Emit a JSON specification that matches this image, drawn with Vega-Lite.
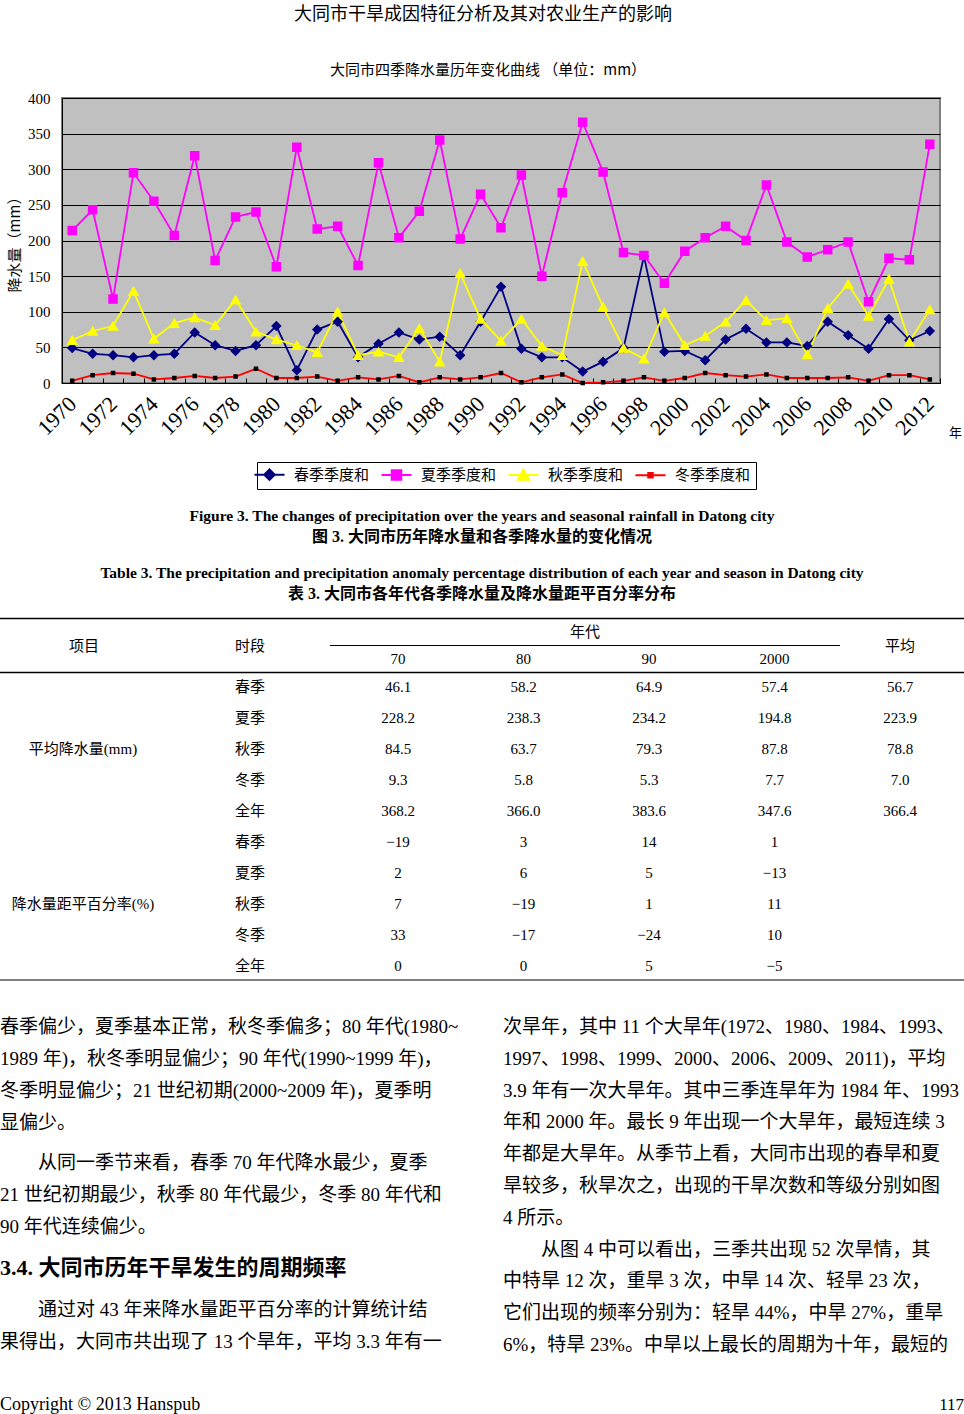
{
  "$schema": "https://vega.github.io/schema/vega-lite/v6.json",
  "width": 878,
  "height": 285,
  "autosize": {"type": "none"},
  "padding": {"left": 62, "top": 98, "right": 24, "bottom": 1031},
  "background": "white",
  "config": {
    "view": {"stroke": "#808080", "strokeWidth": 2, "fill": "#C0C0C0"},
    "font": "Liberation Serif, Noto Sans CJK SC",
    "text": {"color": "black", "baseline": "middle"}
  },
  "datasets": {
    "降水": [
      {"年份": 1970, "春季季度和": 49, "夏季季度和": 214, "秋季季度和": 60, "冬季季度和": 3},
      {"年份": 1971, "春季季度和": 41, "夏季季度和": 243, "秋季季度和": 73, "冬季季度和": 11},
      {"年份": 1972, "春季季度和": 39, "夏季季度和": 118, "秋季季度和": 80, "冬季季度和": 14},
      {"年份": 1973, "春季季度和": 36, "夏季季度和": 295, "秋季季度和": 129, "冬季季度和": 13},
      {"年份": 1974, "春季季度和": 39, "夏季季度和": 255, "秋季季度和": 62, "冬季季度和": 5},
      {"年份": 1975, "春季季度和": 41, "夏季季度和": 207, "秋季季度和": 84, "冬季季度和": 7},
      {"年份": 1976, "春季季度和": 71, "夏季季度和": 319, "秋季季度和": 92, "冬季季度和": 10},
      {"年份": 1977, "春季季度和": 53, "夏季季度和": 172, "秋季季度和": 81, "冬季季度和": 7},
      {"年份": 1978, "春季季度和": 45, "夏季季度和": 233, "秋季季度和": 117, "冬季季度和": 9},
      {"年份": 1979, "春季季度和": 53, "夏季季度和": 240, "秋季季度和": 72, "冬季季度和": 20},
      {"年份": 1980, "春季季度和": 80, "夏季季度和": 163, "秋季季度和": 61, "冬季季度和": 7},
      {"年份": 1981, "春季季度和": 18, "夏季季度和": 331, "秋季季度和": 53, "冬季季度和": 7},
      {"年份": 1982, "春季季度和": 75, "夏季季度和": 216, "秋季季度和": 43, "冬季季度和": 9},
      {"年份": 1983, "春季季度和": 86, "夏季季度和": 220, "秋季季度和": 100, "冬季季度和": 3},
      {"年份": 1984, "春季季度和": 36, "夏季季度和": 165, "秋季季度和": 39, "冬季季度和": 8},
      {"年份": 1985, "春季季度和": 55, "夏季季度和": 309, "秋季季度和": 44, "冬季季度和": 5},
      {"年份": 1986, "春季季度和": 71, "夏季季度和": 204, "秋季季度和": 36, "冬季季度和": 10},
      {"年份": 1987, "春季季度和": 61, "夏季季度和": 241, "秋季季度和": 77, "冬季季度和": 1},
      {"年份": 1988, "春季季度和": 65, "夏季季度和": 341, "秋季季度和": 30, "冬季季度和": 8},
      {"年份": 1989, "春季季度和": 39, "夏季季度和": 202, "秋季季度和": 154, "冬季季度和": 5},
      {"年份": 1990, "春季季度和": 86, "夏季季度和": 265, "秋季季度和": 90, "冬季季度和": 8},
      {"年份": 1991, "春季季度和": 135, "夏季季度和": 218, "秋季季度和": 59, "冬季季度和": 14},
      {"年份": 1992, "春季季度和": 48, "夏季季度和": 292, "秋季季度和": 90, "冬季季度和": 1},
      {"年份": 1993, "春季季度和": 36, "夏季季度和": 150, "秋季季度和": 52, "冬季季度和": 8},
      {"年份": 1994, "春季季度和": 36, "夏季季度和": 267, "秋季季度和": 39, "冬季季度和": 12},
      {"年份": 1995, "春季季度和": 16, "夏季季度和": 366, "秋季季度和": 171, "冬季季度和": 0},
      {"年份": 1996, "春季季度和": 30, "夏季季度和": 296, "秋季季度和": 107, "冬季季度和": 1},
      {"年份": 1997, "春季季度和": 49, "夏季季度和": 183, "秋季季度和": 49, "冬季季度和": 3},
      {"年份": 1998, "春季季度和": 178, "夏季季度和": 179, "秋季季度和": 34, "冬季季度和": 8},
      {"年份": 1999, "春季季度和": 44, "夏季季度和": 140, "秋季季度和": 99, "冬季季度和": 3},
      {"年份": 2000, "春季季度和": 45, "夏季季度和": 185, "秋季季度和": 53, "冬季季度和": 7},
      {"年份": 2001, "春季季度和": 32, "夏季季度和": 204, "秋季季度和": 66, "冬季季度和": 14},
      {"年份": 2002, "春季季度和": 61, "夏季季度和": 220, "秋季季度和": 86, "冬季季度和": 11},
      {"年份": 2003, "春季季度和": 76, "夏季季度和": 200, "秋季季度和": 116, "冬季季度和": 9},
      {"年份": 2004, "春季季度和": 57, "夏季季度和": 278, "秋季季度和": 88, "冬季季度和": 12},
      {"年份": 2005, "春季季度和": 57, "夏季季度和": 198, "秋季季度和": 91, "冬季季度和": 7},
      {"年份": 2006, "春季季度和": 52, "夏季季度和": 177, "秋季季度和": 40, "冬季季度和": 7},
      {"年份": 2007, "春季季度和": 86, "夏季季度和": 187, "秋季季度和": 105, "冬季季度和": 7},
      {"年份": 2008, "春季季度和": 67, "夏季季度和": 198, "秋季季度和": 139, "冬季季度和": 8},
      {"年份": 2009, "春季季度和": 48, "夏季季度和": 114, "秋季季度和": 94, "冬季季度和": 3},
      {"年份": 2010, "春季季度和": 90, "夏季季度和": 175, "秋季季度和": 146, "冬季季度和": 11},
      {"年份": 2011, "春季季度和": 60, "夏季季度和": 173, "秋季季度和": 58, "冬季季度和": 11},
      {"年份": 2012, "春季季度和": 73, "夏季季度和": 335, "秋季季度和": 103, "冬季季度和": 5}
    ],
    "标题": [
      {"位置": "页眉", "文本": "大同市干旱成因特征分析及其对农业生产的影响"},
      {"位置": "图题", "文本": "大同市四季降水量历年变化曲线 （单位：mm）"}
    ],
    "题注": [
      {"图表": "图", "语言": "英文", "文本": "Figure 3. The changes of precipitation over the years and seasonal rainfall in Datong city"},
      {"图表": "图", "语言": "中文", "文本": "图 3.  大同市历年降水量和各季降水量的变化情况"},
      {"图表": "表", "语言": "英文", "文本": "Table 3. The precipitation and precipitation anomaly percentage distribution of each year and season in Datong city"},
      {"图表": "表", "语言": "中文", "文本": "表 3.  大同市各年代各季降水量及降水量距平百分率分布"}
    ],
    "表头": [
      {"表头": "项目", "层": "跨"},
      {"表头": "时段", "层": "跨"},
      {"表头": "年代", "层": "上"},
      {"表头": "70", "层": "下"},
      {"表头": "80", "层": "下"},
      {"表头": "90", "层": "下"},
      {"表头": "2000", "层": "下"},
      {"表头": "平均", "层": "跨"}
    ],
    "表格": [
      {"项目": "平均降水量(mm)", "时段": "春季", "年代": "70", "值": "46.1"},
      {"项目": "平均降水量(mm)", "时段": "春季", "年代": "80", "值": "58.2"},
      {"项目": "平均降水量(mm)", "时段": "春季", "年代": "90", "值": "64.9"},
      {"项目": "平均降水量(mm)", "时段": "春季", "年代": "2000", "值": "57.4"},
      {"项目": "平均降水量(mm)", "时段": "春季", "年代": "平均", "值": "56.7"},
      {"项目": "平均降水量(mm)", "时段": "夏季", "年代": "70", "值": "228.2"},
      {"项目": "平均降水量(mm)", "时段": "夏季", "年代": "80", "值": "238.3"},
      {"项目": "平均降水量(mm)", "时段": "夏季", "年代": "90", "值": "234.2"},
      {"项目": "平均降水量(mm)", "时段": "夏季", "年代": "2000", "值": "194.8"},
      {"项目": "平均降水量(mm)", "时段": "夏季", "年代": "平均", "值": "223.9"},
      {"项目": "平均降水量(mm)", "时段": "秋季", "年代": "70", "值": "84.5"},
      {"项目": "平均降水量(mm)", "时段": "秋季", "年代": "80", "值": "63.7"},
      {"项目": "平均降水量(mm)", "时段": "秋季", "年代": "90", "值": "79.3"},
      {"项目": "平均降水量(mm)", "时段": "秋季", "年代": "2000", "值": "87.8"},
      {"项目": "平均降水量(mm)", "时段": "秋季", "年代": "平均", "值": "78.8"},
      {"项目": "平均降水量(mm)", "时段": "冬季", "年代": "70", "值": "9.3"},
      {"项目": "平均降水量(mm)", "时段": "冬季", "年代": "80", "值": "5.8"},
      {"项目": "平均降水量(mm)", "时段": "冬季", "年代": "90", "值": "5.3"},
      {"项目": "平均降水量(mm)", "时段": "冬季", "年代": "2000", "值": "7.7"},
      {"项目": "平均降水量(mm)", "时段": "冬季", "年代": "平均", "值": "7.0"},
      {"项目": "平均降水量(mm)", "时段": "全年", "年代": "70", "值": "368.2"},
      {"项目": "平均降水量(mm)", "时段": "全年", "年代": "80", "值": "366.0"},
      {"项目": "平均降水量(mm)", "时段": "全年", "年代": "90", "值": "383.6"},
      {"项目": "平均降水量(mm)", "时段": "全年", "年代": "2000", "值": "347.6"},
      {"项目": "平均降水量(mm)", "时段": "全年", "年代": "平均", "值": "366.4"},
      {"项目": "降水量距平百分率(%)", "时段": "春季", "年代": "70", "值": "−19"},
      {"项目": "降水量距平百分率(%)", "时段": "春季", "年代": "80", "值": "3"},
      {"项目": "降水量距平百分率(%)", "时段": "春季", "年代": "90", "值": "14"},
      {"项目": "降水量距平百分率(%)", "时段": "春季", "年代": "2000", "值": "1"},
      {"项目": "降水量距平百分率(%)", "时段": "夏季", "年代": "70", "值": "2"},
      {"项目": "降水量距平百分率(%)", "时段": "夏季", "年代": "80", "值": "6"},
      {"项目": "降水量距平百分率(%)", "时段": "夏季", "年代": "90", "值": "5"},
      {"项目": "降水量距平百分率(%)", "时段": "夏季", "年代": "2000", "值": "−13"},
      {"项目": "降水量距平百分率(%)", "时段": "秋季", "年代": "70", "值": "7"},
      {"项目": "降水量距平百分率(%)", "时段": "秋季", "年代": "80", "值": "−19"},
      {"项目": "降水量距平百分率(%)", "时段": "秋季", "年代": "90", "值": "1"},
      {"项目": "降水量距平百分率(%)", "时段": "秋季", "年代": "2000", "值": "11"},
      {"项目": "降水量距平百分率(%)", "时段": "冬季", "年代": "70", "值": "33"},
      {"项目": "降水量距平百分率(%)", "时段": "冬季", "年代": "80", "值": "−17"},
      {"项目": "降水量距平百分率(%)", "时段": "冬季", "年代": "90", "值": "−24"},
      {"项目": "降水量距平百分率(%)", "时段": "冬季", "年代": "2000", "值": "10"},
      {"项目": "降水量距平百分率(%)", "时段": "全年", "年代": "70", "值": "0"},
      {"项目": "降水量距平百分率(%)", "时段": "全年", "年代": "80", "值": "0"},
      {"项目": "降水量距平百分率(%)", "时段": "全年", "年代": "90", "值": "5"},
      {"项目": "降水量距平百分率(%)", "时段": "全年", "年代": "2000", "值": "−5"}
    ],
    "左栏": [
      {"行": 0, "文本": "春季偏少，夏季基本正常，秋冬季偏多；80 年代(1980~"},
      {"行": 1, "文本": "1989 年)，秋冬季明显偏少；90 年代(1990~1999 年)，"},
      {"行": 2, "文本": "冬季明显偏少；21 世纪初期(2000~2009 年)，夏季明"},
      {"行": 3, "文本": "显偏少。"},
      {"行": 4, "文本": "\u2060　　从同一季节来看，春季 70 年代降水最少，夏季"},
      {"行": 5, "文本": "21 世纪初期最少，秋季 80 年代最少，冬季 80 年代和"},
      {"行": 6, "文本": "90 年代连续偏少。"},
      {"行": 7, "文本": "3.4.  大同市历年干旱发生的周期频率"},
      {"行": 8, "文本": "\u2060　　通过对 43 年来降水量距平百分率的计算统计结"},
      {"行": 9, "文本": "果得出，大同市共出现了 13 个旱年，平均 3.3 年有一"}
    ],
    "右栏": [
      {"行": 0, "文本": "次旱年，其中 11 个大旱年(1972、1980、1984、1993、"},
      {"行": 1, "文本": "1997、1998、1999、2000、2006、2009、2011)，平均"},
      {"行": 2, "文本": "3.9 年有一次大旱年。其中三季连旱年为 1984 年、1993"},
      {"行": 3, "文本": "年和 2000 年。最长 9 年出现一个大旱年，最短连续 3"},
      {"行": 4, "文本": "年都是大旱年。从季节上看，大同市出现的春旱和夏"},
      {"行": 5, "文本": "旱较多，秋旱次之，出现的干旱次数和等级分别如图"},
      {"行": 6, "文本": "4 所示。"},
      {"行": 7, "文本": "\u2060　　从图 4 中可以看出，三季共出现 52 次旱情，其"},
      {"行": 8, "文本": "中特旱 12 次，重旱 3 次，中旱 14 次、轻旱 23 次，"},
      {"行": 9, "文本": "它们出现的频率分别为：轻旱 44%，中旱 27%，重旱"},
      {"行": 10, "文本": "6%，特旱 23%。中旱以上最长的周期为十年，最短的"}
    ],
    "页脚": [
      {"位置": "左", "文本": "Copyright © 2013 Hanspub"},
      {"位置": "右", "文本": "117"}
    ]
  },
  "resolve": {
    "scale": {"x": "independent", "y": "independent"},
    "axis": {"x": "independent", "y": "independent"}
  },
  "layer": [
    {
      "data": {"name": "降水"},
      "transform": [{"fold": ["春季季度和", "夏季季度和", "秋季季度和", "冬季季度和"], "as": ["季节", "降水量"]}],
      "encoding": {
        "x": {
          "field": "年份", "type": "ordinal",
          "scale": {"type": "band", "paddingInner": 0, "paddingOuter": 0},
          "axis": {
            "orient": "bottom", "title": "年", "titleFont": "Noto Sans CJK SC", "titleFontSize": 13,
            "titleFontWeight": "normal", "titleColor": "black", "titleAngle": 0, "titleX": 893, "titleY": 49,
            "titleAlign": "center", "titleBaseline": "middle",
            "labelAngle": -45, "labelAlign": "right", "labelBaseline": "middle",
            "labelFont": "Liberation Serif", "labelFontSize": 22, "labelColor": "black",
            "labelPadding": 22, "labelOverlap": false, "labelFlush": false,
            "labelExpr": "datum.value % 2 === 0 ? datum.label : ''",
            "tickBand": "extent", "tickSize": -5, "tickColor": "black",
            "domainColor": "black", "grid": false
          }
        },
        "y": {
          "field": "降水量", "type": "quantitative",
          "scale": {"domain": [0, 400], "nice": false},
          "axis": {
            "orient": "left", "title": "降水量（mm）", "values": [0, 50, 100, 150, 200, 250, 300, 350, 400],
            "grid": true, "gridColor": "black", "gridOpacity": 1, "ticks": false,
            "labelPadding": 12, "labelFont": "Liberation Serif", "labelFontSize": 15, "labelColor": "black",
            "domainColor": "black", "titleFont": "Noto Sans CJK SC", "titleFontSize": 15,
            "titleFontWeight": "normal", "titleColor": "black", "titlePadding": 5
          }
        }
      },
      "layer": [
        {
          "mark": {"type": "line", "strokeWidth": 1.8},
          "encoding": {
            "color": {
              "field": "季节", "type": "nominal",
              "scale": {"domain": ["冬季季度和", "春季季度和", "夏季季度和", "秋季季度和"], "range": ["#FF0000", "#000080", "#FF00FF", "#FFFF00"]},
              "legend": null
            }
          }
        },
        {
          "mark": {"type": "point", "filled": true, "opacity": 1, "size": 100, "strokeWidth": 0},
          "encoding": {
            "fill": {
              "field": "季节", "type": "nominal",
              "scale": {"domain": ["春季季度和", "夏季季度和", "秋季季度和", "冬季季度和"], "range": ["#000080", "#FF00FF", "#FFFF00", "#000000"]},
              "legend": {
                "title": null, "orient": "none", "legendX": 195, "legendY": 364, "direction": "horizontal",
                "fillColor": "white", "strokeColor": "black", "padding": 5,
                "labelFont": "Noto Sans CJK SC", "labelFontSize": 15, "labelColor": "black",
                "labelOffset": 17, "columnPadding": 7, "symbolSize": 100, "symbolStrokeWidth": 2, "symbolOpacity": 1,
                "encode": {"symbols": {"update": {"stroke": {"scale": "color", "field": "value"}}}}
              }
            },
            "shape": {
              "field": "季节", "type": "nominal",
              "scale": {
                "domain": ["春季季度和", "夏季季度和", "秋季季度和", "冬季季度和"],
                "range": [
                  "M-3,0H3M0,-1.05L1.05,0L0,1.05L-1.05,0Z",
                  "M-3,0H3M-0.95,-0.95H0.95V0.95H-0.95Z",
                  "M-3,0H3M0,-1.05L1.15,0.95H-1.15Z",
                  "M-3,0H3M-0.45,-0.45H0.45V0.45H-0.45Z"
                ]
              },
              "legend": {
                "title": null, "orient": "none", "legendX": 195, "legendY": 364, "direction": "horizontal",
                "fillColor": "white", "strokeColor": "black", "padding": 5,
                "labelFont": "Noto Sans CJK SC", "labelFontSize": 15, "labelColor": "black",
                "labelOffset": 17, "columnPadding": 7, "symbolSize": 100, "symbolStrokeWidth": 2, "symbolOpacity": 1,
                "encode": {"symbols": {"update": {"stroke": {"scale": "color", "field": "value"}}}}
              }
            }
          }
        }
      ]
    },
    {
      "data": {"name": "标题"},
      "transform": [{"filter": {"field": "位置", "equal": "页眉"}}],
      "mark": {"type": "text", "font": "Noto Sans CJK SC", "fontSize": 18, "dx": -18},
      "encoding": {
        "text": {"field": "文本"},
        "y": {"field": "位置", "type": "nominal", "scale": {"type": "point", "domain": ["页眉", "图题"], "range": [-83, -28], "padding": 0}, "axis": null}
      }
    },
    {
      "data": {"name": "标题"},
      "transform": [{"filter": {"field": "位置", "equal": "图题"}}],
      "mark": {"type": "text", "font": "Noto Sans CJK SC", "fontSize": 15, "dx": -13},
      "encoding": {
        "text": {"field": "文本"},
        "y": {"field": "位置", "type": "nominal", "scale": {"type": "point", "domain": ["页眉", "图题"], "range": [-83, -28], "padding": 0}, "axis": null}
      }
    },
    {
      "data": {"name": "题注"},
      "transform": [{"filter": {"field": "语言", "equal": "英文"}}],
      "mark": {"type": "text", "font": "Liberation Serif", "fontWeight": "bold", "fontSize": 15.5, "dx": -19},
      "encoding": {
        "text": {"field": "文本"},
        "y": {"field": "图表", "type": "nominal", "scale": {"type": "point", "domain": ["图", "表"], "range": [418, 475], "padding": 0}, "axis": null}
      }
    },
    {
      "data": {"name": "题注"},
      "transform": [{"filter": {"field": "语言", "equal": "中文"}}],
      "mark": {"type": "text", "font": "Liberation Serif, Noto Sans CJK SC", "fontWeight": "bold", "fontSize": 16, "dx": -19},
      "encoding": {
        "text": {"field": "文本"},
        "y": {"field": "图表", "type": "nominal", "scale": {"type": "point", "domain": ["图", "表"], "range": [439, 496], "padding": 0}, "axis": null}
      }
    },
    {
      "data": {"values": [{"线": "顶线"}, {"线": "栏目线"}]},
      "mark": {"type": "rule", "color": "black", "strokeWidth": 1.5},
      "encoding": {
        "y": {"field": "线", "type": "nominal", "scale": {"type": "point", "domain": ["顶线", "上", "跨", "下", "栏目线"], "range": [520.5, 574.5], "padding": 0}, "axis": null},
        "x": {"datum": 0, "type": "quantitative", "scale": {"domain": [0, 1], "range": [-62, 902]}, "axis": null},
        "x2": {"datum": 1}
      }
    },
    {
      "data": {"values": [{"线": "跨"}]},
      "mark": {"type": "rule", "color": "black", "strokeWidth": 1},
      "encoding": {
        "y": {"field": "线", "type": "nominal", "scale": {"type": "point", "domain": ["顶线", "上", "跨", "下", "栏目线"], "range": [520.5, 574.5], "padding": 0}, "axis": null},
        "x": {"datum": 0, "type": "quantitative", "scale": {"domain": [0, 1], "range": [268, 778]}, "axis": null},
        "x2": {"datum": 1}
      }
    },
    {
      "data": {"values": [{"线": "底线"}]},
      "mark": {"type": "rule", "color": "black", "strokeWidth": 1},
      "encoding": {
        "y": {"field": "线", "type": "nominal", "scale": {"type": "point", "domain": ["底线"], "range": [882, 882], "padding": 0}, "axis": null},
        "x": {"datum": 0, "type": "quantitative", "scale": {"domain": [0, 1], "range": [-62, 902]}, "axis": null},
        "x2": {"datum": 1}
      }
    },
    {
      "data": {"name": "表头"},
      "transform": [{"filter": {"field": "表头", "oneOf": ["项目", "时段"]}}],
      "mark": {"type": "text", "fontSize": 15},
      "encoding": {
        "text": {"field": "表头"},
        "x": {"field": "表头", "type": "nominal", "scale": {"type": "point", "domain": ["项目", "时段"], "range": [22, 188], "padding": 0}, "axis": null},
        "y": {"field": "层", "type": "nominal", "scale": {"type": "point", "domain": ["顶线", "上", "跨", "下", "栏目线"], "range": [520.5, 574.5], "padding": 0}, "axis": null}
      }
    },
    {
      "data": {"name": "表头"},
      "transform": [{"filter": {"field": "表头", "oneOf": ["70", "80", "90", "2000", "平均"]}}],
      "mark": {"type": "text", "fontSize": 15},
      "encoding": {
        "text": {"field": "表头"},
        "x": {"field": "表头", "type": "nominal", "scale": {"type": "point", "domain": ["70", "80", "90", "2000", "平均"], "range": [336, 838], "padding": 0}, "axis": null},
        "y": {"field": "层", "type": "nominal", "scale": {"type": "point", "domain": ["顶线", "上", "跨", "下", "栏目线"], "range": [520.5, 574.5], "padding": 0}, "axis": null}
      }
    },
    {
      "data": {"name": "表头"},
      "transform": [{"filter": {"field": "表头", "equal": "年代"}}],
      "mark": {"type": "text", "fontSize": 15},
      "encoding": {
        "text": {"field": "表头"},
        "x": {"field": "表头", "type": "nominal", "scale": {"type": "point", "domain": ["年代"], "range": [523, 523], "padding": 0}, "axis": null},
        "y": {"field": "层", "type": "nominal", "scale": {"type": "point", "domain": ["顶线", "上", "跨", "下", "栏目线"], "range": [520.5, 574.5], "padding": 0}, "axis": null}
      }
    },
    {
      "data": {"name": "表格"},
      "transform": [{"filter": {"field": "项目", "equal": "平均降水量(mm)"}}],
      "mark": {"type": "text", "fontSize": 15},
      "encoding": {
        "text": {"field": "值"},
        "x": {"field": "年代", "type": "nominal", "scale": {"type": "point", "domain": ["70", "80", "90", "2000", "平均"], "range": [336, 838], "padding": 0}, "axis": null},
        "y": {"field": "时段", "type": "nominal", "scale": {"type": "point", "domain": ["春季", "夏季", "秋季", "冬季", "全年"], "range": [589, 713], "padding": 0}, "axis": null}
      }
    },
    {
      "data": {"name": "表格"},
      "transform": [{"filter": {"field": "项目", "equal": "降水量距平百分率(%)"}}],
      "mark": {"type": "text", "fontSize": 15},
      "encoding": {
        "text": {"field": "值"},
        "x": {"field": "年代", "type": "nominal", "scale": {"type": "point", "domain": ["70", "80", "90", "2000", "平均"], "range": [336, 838], "padding": 0}, "axis": null},
        "y": {"field": "时段", "type": "nominal", "scale": {"type": "point", "domain": ["春季", "夏季", "秋季", "冬季", "全年"], "range": [744, 868], "padding": 0}, "axis": null}
      }
    },
    {
      "data": {"name": "表格"},
      "transform": [{"filter": {"and": [{"field": "年代", "equal": "70"}, {"field": "项目", "equal": "平均降水量(mm)"}]}}],
      "mark": {"type": "text", "fontSize": 15},
      "encoding": {
        "text": {"field": "时段"},
        "x": {"datum": "时段", "type": "nominal", "scale": {"type": "point", "domain": ["项目", "时段"], "range": [22, 188], "padding": 0}, "axis": null},
        "y": {"field": "时段", "type": "nominal", "scale": {"type": "point", "domain": ["春季", "夏季", "秋季", "冬季", "全年"], "range": [589, 713], "padding": 0}, "axis": null}
      }
    },
    {
      "data": {"name": "表格"},
      "transform": [{"filter": {"and": [{"field": "年代", "equal": "70"}, {"field": "项目", "equal": "降水量距平百分率(%)"}]}}],
      "mark": {"type": "text", "fontSize": 15},
      "encoding": {
        "text": {"field": "时段"},
        "x": {"datum": "时段", "type": "nominal", "scale": {"type": "point", "domain": ["项目", "时段"], "range": [22, 188], "padding": 0}, "axis": null},
        "y": {"field": "时段", "type": "nominal", "scale": {"type": "point", "domain": ["春季", "夏季", "秋季", "冬季", "全年"], "range": [744, 868], "padding": 0}, "axis": null}
      }
    },
    {
      "data": {"name": "表格"},
      "transform": [{"filter": {"and": [{"field": "年代", "equal": "70"}, {"field": "时段", "equal": "秋季"}]}}],
      "mark": {"type": "text", "fontSize": 15},
      "encoding": {
        "text": {"field": "项目"},
        "x": {"datum": "项目", "type": "nominal", "scale": {"type": "point", "domain": ["项目", "时段"], "range": [21, 188], "padding": 0}, "axis": null},
        "y": {"field": "项目", "type": "nominal", "scale": {"type": "point", "domain": ["平均降水量(mm)", "降水量距平百分率(%)"], "range": [651, 806], "padding": 0}, "axis": null}
      }
    },
    {
      "data": {"name": "左栏"},
      "transform": [{"filter": {"not": {"field": "行", "equal": 7}}}],
      "mark": {"type": "text", "fontSize": 19, "align": "left"},
      "encoding": {
        "text": {"field": "文本"},
        "x": {"datum": "左栏", "type": "nominal", "scale": {"type": "point", "domain": ["左栏", "右栏"], "range": [-62, 441], "padding": 0}, "axis": null},
        "y": {"field": "行", "type": "quantitative", "scale": {"domain": [0, 3, 4, 6, 7, 8, 9], "range": [929, 1025, 1065, 1129, 1170, 1212, 1244], "nice": false, "zero": false}, "axis": null}
      }
    },
    {
      "data": {"name": "左栏"},
      "transform": [{"filter": {"field": "行", "equal": 7}}],
      "mark": {"type": "text", "fontSize": 22, "fontWeight": "bold", "align": "left"},
      "encoding": {
        "text": {"field": "文本"},
        "x": {"datum": "左栏", "type": "nominal", "scale": {"type": "point", "domain": ["左栏", "右栏"], "range": [-62, 441], "padding": 0}, "axis": null},
        "y": {"field": "行", "type": "quantitative", "scale": {"domain": [0, 3, 4, 6, 7, 8, 9], "range": [929, 1025, 1065, 1129, 1170, 1212, 1244], "nice": false, "zero": false}, "axis": null}
      }
    },
    {
      "data": {"name": "右栏"},
      "mark": {"type": "text", "fontSize": 19, "align": "left"},
      "encoding": {
        "text": {"field": "文本"},
        "x": {"datum": "右栏", "type": "nominal", "scale": {"type": "point", "domain": ["左栏", "右栏"], "range": [-62, 441], "padding": 0}, "axis": null},
        "y": {"field": "行", "type": "quantitative", "scale": {"domain": [0, 10], "range": [929, 1247], "nice": false, "zero": false}, "axis": null}
      }
    },
    {
      "data": {"name": "页脚"},
      "transform": [{"filter": {"field": "位置", "equal": "左"}}],
      "mark": {"type": "text", "fontSize": 18, "align": "left"},
      "encoding": {
        "text": {"field": "文本"},
        "x": {"field": "位置", "type": "nominal", "scale": {"type": "point", "domain": ["左", "右"], "range": [-62, 902], "padding": 0}, "axis": null},
        "y": {"datum": "页脚", "type": "nominal", "scale": {"type": "point", "domain": ["页脚"], "range": [1307, 1307], "padding": 0}, "axis": null}
      }
    },
    {
      "data": {"name": "页脚"},
      "transform": [{"filter": {"field": "位置", "equal": "右"}}],
      "mark": {"type": "text", "fontSize": 17, "align": "right"},
      "encoding": {
        "text": {"field": "文本"},
        "x": {"field": "位置", "type": "nominal", "scale": {"type": "point", "domain": ["左", "右"], "range": [-62, 902], "padding": 0}, "axis": null},
        "y": {"datum": "页脚", "type": "nominal", "scale": {"type": "point", "domain": ["页脚"], "range": [1307, 1307], "padding": 0}, "axis": null}
      }
    }
  ]
}
